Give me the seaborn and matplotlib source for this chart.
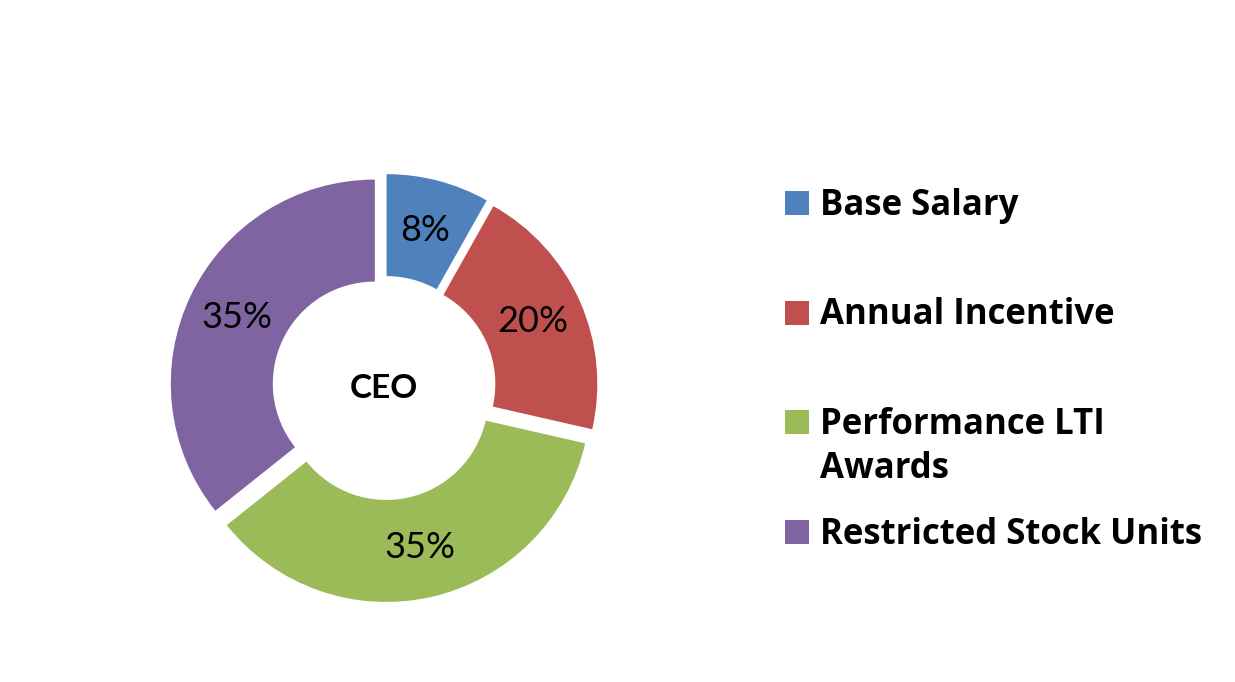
import numpy as np
import matplotlib
matplotlib.use("Agg")
import matplotlib.pyplot as plt
import seaborn as sns
from matplotlib.patches import Rectangle

# data
components = ["Base Salary", "Annual Incentive", "Performance LTI\nAwards", "Restricted Stock Units"]
shares = [8, 20, 35, 35]
colors = ["#4F81BD", "#C0504D", "#9BBB59", "#8064A2"]
center_label = "CEO"

sns.set_theme(style="white")
plt.rcParams['font.family'] = ['Lato', 'DejaVu Sans']
plt.rcParams['text.color'] = 'black'

fig = plt.figure(figsize=(12.35, 6.82), dpi=100)
fig.patch.set_facecolor("white")

# donut axes, placed in pixels (center ~ (384, 388), radius ~204 px)
W, H = 1235, 682
R = 204
cx, cy = 384, H - 388
half = 1.1 * R
ax = fig.add_axes([(cx - half) / W, (cy - half) / H, 2 * half / W, 2 * half / H])

total = sum(shares)
wedges, _, autotexts = ax.pie(
    shares,
    colors=colors,
    startangle=90,
    counterclock=False,
    explode=[0.05] * len(shares),
    radius=1,
    wedgeprops=dict(width=0.5, linewidth=0),
    autopct=lambda p: f"{p * total / 100:.0f}%",
    pctdistance=0.75,
    textprops=dict(fontsize=26, color="black"),
)
ax.text(0, 0, center_label, ha="center", va="center", fontsize=24,
        fontweight="bold", color="black")
ax.set_xlim(-1.1, 1.1)
ax.set_ylim(-1.1, 1.1)
ax.set_aspect("equal")
ax.axis("off")

# legend drawn by hand so the box aligns with the first text line
box = 24
step = 109.5
top = 191
line_gap = 44
for i, (name, col) in enumerate(zip(components, colors)):
    y_top = top + i * step
    fig.patches.append(Rectangle((785 / W, (H - y_top - box) / H), box / W, box / H,
                                 transform=fig.transFigure, color=col, lw=0))
    for k, line in enumerate(name.split("\n")):
        fig.text(820 / W, (H - y_top - box - k * line_gap) / H, line, ha="left",
                 va="baseline", fontsize=25, fontweight="bold", color="black",
                 family=["Open Sans", "DejaVu Sans"])

fig.savefig("out.png", dpi=100, facecolor="white")
